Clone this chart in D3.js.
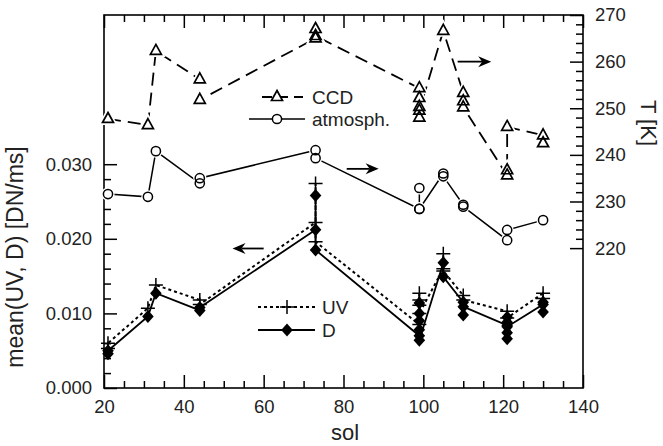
<!DOCTYPE html>
<html>
<head>
<meta charset="utf-8">
<script src="https://cdn.jsdelivr.net/npm/d3@7"></script>
<style>
  body { margin: 0; background: #fff; }
  text { font-family: "Liberation Sans", Arial, sans-serif; fill: #222; }
</style>
</head>
<body>
<div id="chart"></div>
<script>
const width = 663, height = 446;

// data
const solTicks = [20, 40, 60, 80, 100, 120, 140];
const leftTicks = [0, 0.01, 0.02, 0.03];
const rightTicks = [220, 230, 240, 250, 260, 270];

const ccdSol = [21, 31, 33, 44, 44, 73, 73, 73, 99, 99, 99, 99, 99, 105, 110, 110, 110, 121, 121, 121, 130, 130];
const ccdT   = [247.7, 246.4, 262.3, 256.2, 251.8, 265.0, 267.0, 265.5, 254.3, 252.2, 250.3, 248.0, 249.5, 266.6, 253.3, 251.5, 250.2, 235.6, 236.7, 246.0, 244.2, 242.5];

const atmSol = [21, 31, 33, 44, 44, 73, 73, 99, 99, 99, 105, 105, 110, 110, 121, 121, 130];
const atmT   = [231.6, 231.0, 240.8, 233.9, 235.0, 241.0, 239.3, 228.4, 232.9, 228.4, 236.0, 235.4, 229.3, 228.9, 221.7, 223.9, 226.0];

const uvSol = [21, 21, 31, 33, 44, 44, 73, 73, 73, 99, 99, 99, 99, 99, 105, 105, 105, 110, 110, 121, 121, 130, 130];
const uvVal = [0.0053, 0.0060, 0.0107, 0.0138, 0.0118, 0.0112, 0.0222, 0.0274, 0.0196, 0.0085, 0.0127, 0.0118, 0.0111, 0.0100, 0.0160, 0.0180, 0.0157, 0.0124, 0.0118, 0.0103, 0.0094, 0.0127, 0.0120];

const dSol = [21, 21, 31, 33, 44, 44, 73, 73, 73, 99, 99, 99, 99, 99, 99, 105, 105, 110, 110, 110, 121, 121, 121, 121, 121, 121, 130, 130, 130];
const dVal = [0.0046, 0.0050, 0.0096, 0.0127, 0.0104, 0.0108, 0.0212, 0.0258, 0.0185, 0.0070, 0.0114, 0.0100, 0.0090, 0.0078, 0.0064, 0.0168, 0.0149, 0.0115, 0.0098, 0.0109, 0.0084, 0.0095, 0.0088, 0.0074, 0.0066, 0.0082, 0.0112, 0.0102, 0.0115];

// arrows: [sol from, sol to, value, axis]
const arrows = [
  [108.6, 117, 260, 'right'],
  [80.8, 88.8, 237, 'right'],
  [60, 52.2, 0.0187, 'left']
];

const x = d3.scaleLinear([20, 140], [104, 583]);
const yL = d3.scaleLinear([0, 0.05], [388, 15]);
const yR = d3.scaleLinear([190, 270], [388, 15]);

const svg = d3.select('#chart').append('svg')
  .attr('width', width)
  .attr('height', height);

const fs = '18.5px';
const titleFs = '22px';

// minor + major ticks, all inward
function ticks(axis, scale, vals, size, labels, pad){
  return axis(scale).tickValues(vals).tickSize(size).tickPadding(pad || 12)
    .tickFormat(labels ? null : '');
}
const minorSol = d3.range(20, 141, 5).filter(v => v % 20);
const minorL = d3.range(0, 0.0301, 0.002).filter((v, i) => i % 5);
const minorR = d3.range(220, 271, 2).filter(v => v % 10);

function styleAxis(g){
  g.select('.domain').remove();
  g.selectAll('line').attr('stroke', '#000').attr('stroke-width', 1.5);
  g.selectAll('text').attr('font-size', fs).attr('fill', '#222')
    .attr('font-family', '"Liberation Sans", Arial, sans-serif');
}

svg.append('g').attr('transform', 'translate(0,388)')
  .call(ticks(d3.axisBottom, x, solTicks, -13, true)).call(styleAxis);
svg.append('g').attr('transform', 'translate(0,388)')
  .call(ticks(d3.axisBottom, x, minorSol, -7)).call(styleAxis);
svg.append('g').attr('transform', 'translate(0,15)')
  .call(ticks(d3.axisTop, x, solTicks, -13)).call(styleAxis);
svg.append('g').attr('transform', 'translate(0,15)')
  .call(ticks(d3.axisTop, x, minorSol, -7)).call(styleAxis);

svg.append('g').attr('transform', 'translate(104,0)')
  .call(ticks(d3.axisLeft, yL, leftTicks, -13, true).tickFormat(d3.format('.3f'))).call(styleAxis);
svg.append('g').attr('transform', 'translate(104,0)')
  .call(ticks(d3.axisLeft, yL, minorL, -7)).call(styleAxis);

svg.append('g').attr('transform', 'translate(583,0)')
  .call(ticks(d3.axisRight, yR, rightTicks, -13, true)).call(styleAxis);
svg.append('g').attr('transform', 'translate(583,0)')
  .call(ticks(d3.axisRight, yR, minorR, -7)).call(styleAxis);

// frame
svg.append('rect')
  .attr('x', 104).attr('y', 15)
  .attr('width', 583 - 104).attr('height', 388 - 15)
  .attr('fill', 'none').attr('stroke', '#000').attr('stroke-width', 1.6);

// axis titles
svg.append('text')
  .attr('x', 345).attr('y', 440)
  .attr('text-anchor', 'middle').attr('font-size', titleFs)
  .text('sol');
svg.append('text')
  .attr('transform', 'translate(23,257) rotate(-90)')
  .attr('text-anchor', 'middle').attr('font-size', '23px')
  .text('mean(UV, D) [DN/ms]');
svg.append('text')
  .attr('transform', 'translate(641,123) rotate(90)')
  .attr('text-anchor', 'middle').attr('font-size', titleFs)
  .text('T [K]');

// marker shapes
const triPath = 'M0,-6.5L5.5,3.5L-5.5,3.5Z';
const crossPath = 'M-7,0H7M0,-7V7';
const diaPath = 'M0,-6.5L5.8,0L0,6.5L-5.8,0Z';

const ccd = d3.zip(ccdSol, ccdT);
const atm = d3.zip(atmSol, atmT);
const uv = d3.zip(uvSol, uvVal);
const dd = d3.zip(dSol, dVal);

const lineR = d3.line().x(d => x(d[0])).y(d => yR(d[1]));
const lineL = d3.line().x(d => x(d[0])).y(d => yL(d[1]));

// lines
svg.append('path').attr('d', lineR(ccd))
  .attr('fill', 'none').attr('stroke', '#000').attr('stroke-width', 1.8)
  .attr('stroke-dasharray', '13,7');
svg.append('path').attr('d', lineR(atm))
  .attr('fill', 'none').attr('stroke', '#000').attr('stroke-width', 1.5);
svg.append('path').attr('d', lineL(uv))
  .attr('fill', 'none').attr('stroke', '#000').attr('stroke-width', 2)
  .attr('stroke-dasharray', '3,3');
svg.append('path').attr('d', lineL(dd))
  .attr('fill', 'none').attr('stroke', '#000').attr('stroke-width', 1.8);

// white halos so lines stop short of the open symbols
svg.append('g').selectAll('path').data(ccd).join('path')
  .attr('d', triPath)
  .attr('transform', d => `translate(${x(d[0])},${yR(d[1])})`)
  .attr('fill', '#fff').attr('stroke', '#fff').attr('stroke-width', 5);
svg.append('g').selectAll('circle').data(atm).join('circle')
  .attr('cx', d => x(d[0])).attr('cy', d => yR(d[1])).attr('r', 4.6)
  .attr('fill', '#fff').attr('stroke', '#fff').attr('stroke-width', 4);

// markers
svg.append('g').selectAll('path').data(ccd).join('path')
  .attr('d', triPath)
  .attr('transform', d => `translate(${x(d[0])},${yR(d[1])})`)
  .attr('fill', 'none').attr('stroke', '#000').attr('stroke-width', 1.7);
svg.append('g').selectAll('circle').data(atm).join('circle')
  .attr('cx', d => x(d[0])).attr('cy', d => yR(d[1])).attr('r', 4.6)
  .attr('fill', 'none').attr('stroke', '#000').attr('stroke-width', 1.5);
svg.append('g').selectAll('path').data(uv).join('path')
  .attr('d', crossPath)
  .attr('transform', d => `translate(${x(d[0])},${yL(d[1])})`)
  .attr('fill', 'none').attr('stroke', '#000').attr('stroke-width', 1.5);
svg.append('g').selectAll('path').data(dd).join('path')
  .attr('d', diaPath)
  .attr('transform', d => `translate(${x(d[0])},${yL(d[1])})`)
  .attr('fill', '#000');

// arrows
function arrowHead(x1, x2){
  const dir = x2 > x1 ? 1 : -1;
  return `M0,0L${-13 * dir},-5.5L${-9 * dir},0L${-13 * dir},5.5Z`;
}
arrows.forEach(a => {
  const ys = a[3] === 'right' ? yR : yL;
  const x1 = x(a[0]), x2 = x(a[1]), yy = ys(a[2]);
  svg.append('line').attr('x1', x1).attr('x2', x2 - (x2 > x1 ? 9 : -9))
    .attr('y1', yy).attr('y2', yy)
    .attr('stroke', '#000').attr('stroke-width', 1.8);
  svg.append('path').attr('d', arrowHead(x1, x2))
    .attr('transform', `translate(${x2},${yy})`).attr('fill', '#000');
});

// legends
const leg = svg.append('g').attr('font-size', '19px');
function legendRow(y, x1, x2, mx, tx, label, dash, sw, marker){
  leg.append('line').attr('x1', x1).attr('x2', x2).attr('y1', y).attr('y2', y)
    .attr('stroke', '#000').attr('stroke-width', sw)
    .attr('stroke-dasharray', dash);
  marker(leg.append('g').attr('transform', `translate(${mx},${y})`));
  leg.append('text').attr('x', tx).attr('y', y).attr('dy', '0.35em').text(label);
}
legendRow(97, 262, 303, 277, 312, 'CCD', '10,6', 1.8, g => {
  g.append('path').attr('d', triPath).attr('fill', '#fff').attr('stroke', '#000').attr('stroke-width', 1.7);
});
legendRow(119, 249, 305, 277, 312, 'atmosph.', null, 1.5, g => {
  g.append('circle').attr('r', 4.6).attr('fill', '#fff').attr('stroke', '#000').attr('stroke-width', 1.5);
});
legendRow(307, 258, 315, 287, 322, 'UV', '3,3', 2, g => {
  g.append('path').attr('d', crossPath).attr('stroke', '#000').attr('stroke-width', 1.5);
});
legendRow(330, 258, 315, 287, 322, 'D', null, 1.8, g => {
  g.append('path').attr('d', diaPath).attr('fill', '#000');
});
</script>
</body>
</html>
